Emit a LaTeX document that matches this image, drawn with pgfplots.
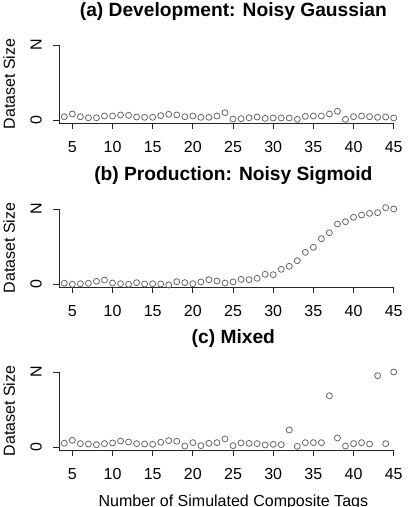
\documentclass[border=0pt]{standalone}
\usepackage{pgfplots}
\pgfplotsset{compat=1.18}
\usepackage{fontspec}
\setmainfont{Liberation Sans}
\begin{document}
\begin{tikzpicture}
\useasboundingbox (-59pt,-384pt) rectangle (350pt,123pt);
\pgfplotsset{
 pts/.style={only marks, mark=o, mark size=3pt, color=black!60, mark options={line width=0.8pt, solid}},
 panel/.style={
  scale only axis, width=334.7pt, height=78pt,
  xmin=3.34, xmax=45, ymin=-0.04, ymax=1,
  axis x line*=bottom, axis y line*=left,
  axis line style={-, black!85, line width=0.8pt},
  clip=false,
  xtick={5,10,...,45}, ytick={0,1}, yticklabels={0,N},
  tick align=outside, major tick length=6pt,
  tick style={black!85, line width=0.8pt},
  /pgf/number format/assume math mode=true,
  tick label style={font=\fontsize{16}{19}\selectfont},
  xticklabel style={anchor=base, inner sep=0pt, yshift=-23pt},
  yticklabel style={xshift=-11.3pt, rotate=90, anchor=base, inner sep=0pt},
  ylabel={Dataset Size},
  ylabel style={at={(axis description cs:0,0.5)}, anchor=base, inner sep=0pt, yshift=44pt, font=\fontsize{16}{19}\selectfont},
  title style={at={(axis description cs:0.5,1)}, anchor=base, inner sep=0pt, yshift=22.5pt, xshift=7pt, font=\fontsize{19.2}{23}\selectfont\bfseries},
 }
}
\begin{axis}[panel, at={(0pt,0pt)}, anchor=south west, title={(a) Development: Noisy Gaussian}]
\addplot[pts] table {
x y
4 0.044
5 0.08
6 0.044
7 0.03
8 0.03
9 0.053
10 0.053
11 0.067
12 0.062
13 0.04
14 0.036
15 0.036
16 0.058
17 0.076
18 0.067
19 0.044
20 0.053
21 0.036
22 0.036
23 0.053
24 0.098
25 0.013
26 0.018
27 0.03
28 0.04
29 0.022
30 0.027
31 0.027
32 0.027
33 0.009
34 0.049
35 0.053
36 0.053
37 0.08
38 0.116
39 0.009
40 0.044
41 0.053
42 0.044
43 0.036
44 0.04
45 0.027
};
\end{axis}
\begin{axis}[panel, at={(0pt,-164pt)}, anchor=south west, title={(b) Production: Noisy Sigmoid}]
\addplot[pts] table {
x y
4 0.01
5 -0.004
6 0.004
7 0.01
8 0.036
9 0.053
10 0.013
11 0.004
12 -0.004
13 0.018
14 0
15 0.004
16 0
17 -0.013
18 0.031
19 0.018
20 0.004
21 0.027
22 0.058
23 0.04
24 0.013
25 0.027
26 0.062
27 0.058
28 0.076
29 0.129
30 0.124
31 0.196
32 0.236
33 0.311
34 0.422
35 0.489
36 0.604
37 0.684
38 0.8
39 0.831
40 0.889
41 0.92
42 0.942
43 0.951
44 1.018
45 1.0
};
\end{axis}
\begin{axis}[panel, at={(0pt,-327pt)}, anchor=south west, title={(c) Mixed},
  xlabel={Number of Simulated Composite Tags},
  xlabel style={at={(axis description cs:0.5,0)}, anchor=base, inner sep=0pt, yshift=-56pt, xshift=7pt, font=\fontsize{16}{19}\selectfont}]
\addplot[pts] table {
x y
4 0.049
5 0.089
6 0.045
7 0.04
8 0.031
9 0.045
10 0.054
11 0.08
12 0.067
13 0.045
14 0.04
15 0.036
16 0.063
17 0.085
18 0.076
19 0.013
20 0.058
21 0.018
22 0.049
23 0.058
24 0.107
25 0.018
26 0.054
27 0.049
28 0.045
29 0.027
30 0.036
31 0.031
32 0.228
33 0.009
34 0.058
35 0.058
36 0.058
37 0.683
38 0.121
39 0.013
40 0.045
41 0.058
42 0.04
43 0.951
44 0.045
45 1.0
};
\end{axis}
\end{tikzpicture}
\end{document}
